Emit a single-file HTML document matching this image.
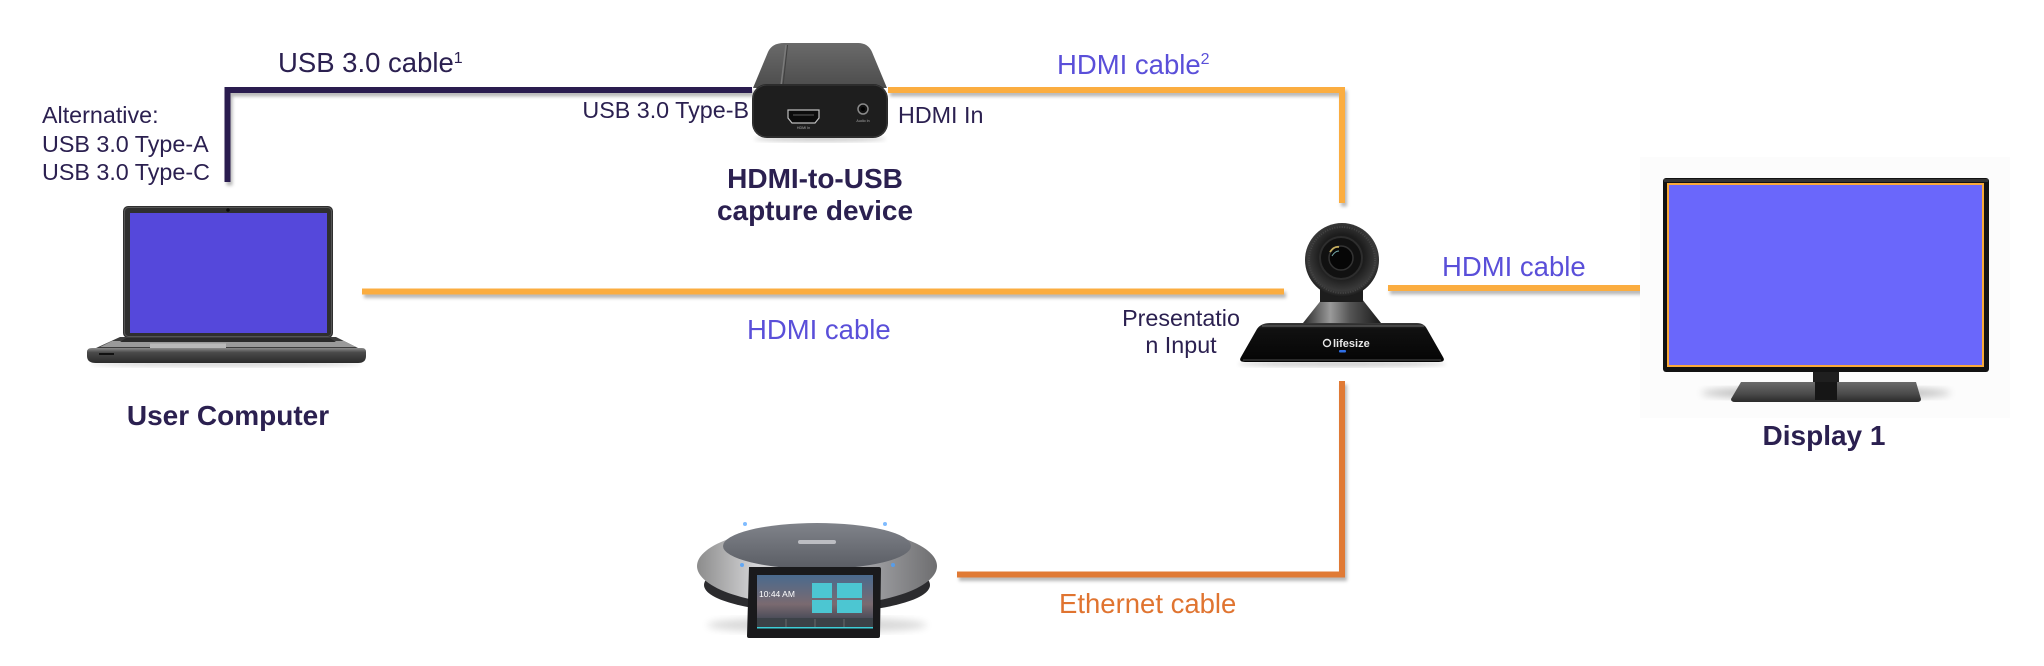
<!DOCTYPE html>
<html>
<head>
<meta charset="utf-8">
<style>
  html,body{margin:0;padding:0;background:#ffffff;}
  body{width:2044px;height:666px;overflow:hidden;}
  svg{display:block;}
  text{font-family:"Liberation Sans",Arial,sans-serif;}
</style>
</head>
<body>
<svg width="2044" height="666" viewBox="0 0 2044 666" xmlns="http://www.w3.org/2000/svg">
  <defs>
    <filter id="sh" x="-5%" y="-50%" width="110%" height="200%">
      <feDropShadow dx="2" dy="3.5" stdDeviation="1.6" flood-color="#000" flood-opacity="0.28"/>
    </filter>
    <filter id="blur4"><feGaussianBlur stdDeviation="4"/></filter>
    <filter id="blur2"><feGaussianBlur stdDeviation="2"/></filter>
    <linearGradient id="devTop" x1="0" y1="0" x2="0" y2="1">
      <stop offset="0" stop-color="#6a6a6a"/>
      <stop offset="1" stop-color="#4c4c4c"/>
    </linearGradient>
    <linearGradient id="cone" x1="0" y1="0" x2="1" y2="0">
      <stop offset="0" stop-color="#2a2a2a"/>
      <stop offset="0.35" stop-color="#9a9a9a"/>
      <stop offset="0.6" stop-color="#555"/>
      <stop offset="1" stop-color="#1a1a1a"/>
    </linearGradient>
    <linearGradient id="camBase" x1="0" y1="0" x2="0" y2="1">
      <stop offset="0" stop-color="#3a3a3a"/>
      <stop offset="0.15" stop-color="#111"/>
      <stop offset="1" stop-color="#050505"/>
    </linearGradient>
    <radialGradient id="camHead" cx="0.5" cy="0.45" r="0.55">
      <stop offset="0" stop-color="#0a0a0a"/>
      <stop offset="0.55" stop-color="#1d1d1d"/>
      <stop offset="0.85" stop-color="#3a3a3a"/>
      <stop offset="1" stop-color="#1a1a1a"/>
    </radialGradient>
    <linearGradient id="tvBase" x1="0" y1="0" x2="0" y2="1">
      <stop offset="0" stop-color="#6a6a6a"/>
      <stop offset="0.6" stop-color="#4a4a4a"/>
      <stop offset="1" stop-color="#2a2a2a"/>
    </linearGradient>
    <linearGradient id="spkSilver" x1="0" y1="0" x2="1" y2="0">
      <stop offset="0" stop-color="#8c8c8c"/>
      <stop offset="0.25" stop-color="#d5d5d7"/>
      <stop offset="0.6" stop-color="#b5b6ba"/>
      <stop offset="1" stop-color="#6e6e70"/>
    </linearGradient>
    <linearGradient id="spkTop" x1="0" y1="0" x2="0" y2="1">
      <stop offset="0" stop-color="#80838a"/>
      <stop offset="1" stop-color="#5a5d64"/>
    </linearGradient>
    <linearGradient id="spkScreen" x1="0" y1="0" x2="0" y2="1">
      <stop offset="0" stop-color="#4a6a8e"/>
      <stop offset="0.55" stop-color="#7a6a70"/>
      <stop offset="1" stop-color="#2c3a4a"/>
    </linearGradient>
    <linearGradient id="lapBase" x1="0" y1="0" x2="0" y2="1">
      <stop offset="0" stop-color="#8a8a8a"/>
      <stop offset="0.3" stop-color="#4a4a4a"/>
      <stop offset="1" stop-color="#2a2a2a"/>
    </linearGradient>
  </defs>

  <!-- ===== Connectors ===== -->
  <g filter="url(#sh)" fill="none" stroke-linejoin="miter" stroke-linecap="butt">
    <path d="M227.5 182 V90 H752" stroke="#2b1e4f" stroke-width="6"/>
    <path d="M888 90 H1342 V203" stroke="#fbad41" stroke-width="6"/>
    <path d="M362 291.5 H1284" stroke="#fbad41" stroke-width="6"/>
    <path d="M1388 288 H1641" stroke="#fbad41" stroke-width="6"/>
    <path d="M957 574.5 H1342 V381" stroke="#e07a35" stroke-width="6"/>
  </g>

  <!-- ===== Laptop ===== -->
  <ellipse cx="226" cy="364" rx="135" ry="3" fill="#000" opacity="0.15" filter="url(#blur2)"/>
  <rect x="123" y="206" width="210" height="132" rx="5" fill="#2f2f2f"/>
  <rect x="124.5" y="207.5" width="207" height="129" rx="4" fill="none" stroke="#555" stroke-width="1"/>
  <rect x="130" y="213" width="197" height="120" fill="#5548db"/>
  <circle cx="228" cy="210" r="1.8" fill="#0a0a0a"/>
  <path d="M120 337 H336 L358 348 H96 Z" fill="#3c3c3c"/>
  <path d="M112 341 H344 L356 347 H100 Z" fill="#9a9a9a"/>
  <path d="M126 338 H330 L336 342 H120 Z" fill="#2a2a2a"/>
  <rect x="150" y="343.5" width="76" height="4.5" fill="#b8b8b8"/>
  <path d="M92 348 H362 Q366 348 366 352 V356 Q366 363 358 363 H96 Q87 363 87 356 V352 Q87 348 92 348 Z" fill="url(#lapBase)"/>
  <rect x="99" y="353" width="15" height="2" fill="#111"/>

  <!-- ===== Capture device ===== -->
  <ellipse cx="820" cy="139" rx="66" ry="3" fill="#000" opacity="0.18" filter="url(#blur2)"/>
  <path d="M784 43 H858 Q868 43 872 52 L887 88 H753 L768 52 Q772 43 784 43 Z" fill="url(#devTop)"/>
  <path d="M786 45 L781 86" stroke="#7a7a7a" stroke-width="1.5"/>
  <path d="M787.5 45 L783 86" stroke="#404040" stroke-width="1"/>
  <rect x="752" y="84" width="136" height="54" rx="15" fill="#1e1e1e"/>
  <rect x="753" y="85" width="134" height="52" rx="14" fill="none" stroke="#3a3a3a" stroke-width="1"/>
  <path d="M788 110 H819 V118 L815 123 H792 L788 118 Z" fill="#0b0b0b" stroke="#bdbdbd" stroke-width="1.2"/>
  <rect x="793" y="114" width="21" height="2" fill="#333"/>
  <text x="803.5" y="129" font-size="3.6" fill="#aaa" text-anchor="middle">HDMI In</text>
  <circle cx="863" cy="109" r="5" fill="#111" stroke="#8a8a8a" stroke-width="1.5"/>
  <circle cx="863" cy="109" r="2" fill="#000"/>
  <text x="863" y="122" font-size="3.6" fill="#aaa" text-anchor="middle">Audio In</text>

  <!-- ===== Camera ===== -->
  <ellipse cx="1342" cy="364" rx="104" ry="3" fill="#000" opacity="0.18" filter="url(#blur2)"/>
  <path d="M1270 323 H1417 Q1424 323 1427 329 L1443 357 Q1446 362 1439 362 H1245 Q1238 362 1241 357 L1257 329 Q1261 323 1270 323 Z" fill="url(#camBase)"/>
  <path d="M1262 326 H1424" stroke="#5a5a5a" stroke-width="1.2"/>
  <path d="M1243 360 H1441" stroke="#2a2a2a" stroke-width="2"/>
  <path d="M1322 299 H1362 L1381 323 H1303 Z" fill="url(#cone)"/>
  <rect x="1320" y="286" width="43" height="16" fill="#1d1d1d"/>
  <circle cx="1342" cy="260" r="37" fill="url(#camHead)"/>
  <circle cx="1342" cy="260" r="33" fill="none" stroke="#444" stroke-width="2" stroke-dasharray="1 1.5"/>
  <circle cx="1341" cy="258" r="21" fill="#111" stroke="#2d2d2d" stroke-width="2"/>
  <circle cx="1341" cy="258" r="12" fill="#060606" stroke="#333" stroke-width="1.5"/>
  <path d="M1330 252 Q1334 246 1339 247" stroke="#c8b060" stroke-width="1.8" fill="none"/>
  <path d="M1332 256 Q1335 251 1339 251" stroke="#7aa" stroke-width="1" fill="none"/>
  <circle cx="1327" cy="343" r="3.5" fill="none" stroke="#e8e8e8" stroke-width="1.4"/>
  <text x="1333" y="347" font-size="11" font-weight="bold" fill="#e8e8e8">lifesize</text>
  <rect x="1339" y="350" width="7" height="2.5" rx="1" fill="#2f6fe6"/>

  <!-- ===== TV ===== -->
  <rect x="1640" y="157" width="370" height="261" fill="#fcfcfc"/>
  <ellipse cx="1826" cy="393" rx="125" ry="6" fill="#000" opacity="0.25" filter="url(#blur4)"/>
  <rect x="1663" y="178" width="326" height="194" rx="3" fill="#121212"/>
  <rect x="1664" y="179" width="324" height="3" fill="#333"/>
  <rect x="1668" y="184" width="315" height="182" fill="#6a67fb" stroke="#f9a93a" stroke-width="2"/>
  <rect x="1813" y="372" width="26" height="11" fill="#1f1f1f"/>
  <path d="M1741 382 H1916 L1921 399 Q1921 402 1917 402 H1735 Q1731 402 1731 399 Z" fill="url(#tvBase)"/>
  <rect x="1815" y="382" width="22" height="18" fill="#161616"/>

  <!-- ===== Speakerphone ===== -->
  <ellipse cx="817" cy="625" rx="110" ry="8" fill="#000" opacity="0.15" filter="url(#blur4)"/>
  <ellipse cx="817" cy="585" rx="113" ry="28" fill="#2b2b2e"/>
  <ellipse cx="817" cy="566" rx="120" ry="40" fill="url(#spkSilver)"/>
  <ellipse cx="817" cy="546" rx="94" ry="23" fill="url(#spkTop)"/>
  <rect x="798" y="540" width="38" height="4" rx="2" fill="#cfd0d4" opacity="0.8"/>
  <circle cx="745" cy="524" r="2" fill="#4aa0ff" opacity="0.7"/>
  <circle cx="885" cy="524" r="2" fill="#4aa0ff" opacity="0.7"/>
  <circle cx="742" cy="565" r="2" fill="#4aa0ff" opacity="0.8"/>
  <circle cx="893" cy="565" r="2" fill="#4aa0ff" opacity="0.8"/>
  <path d="M749 567 H879 Q881 567 881 569 L880 636 Q880 638 878 638 H749 Q747 638 747 636 Z" fill="#1a1a1c"/>
  <rect x="757" y="575" width="116" height="53" fill="url(#spkScreen)"/>
  <rect x="812" y="583" width="20" height="15" fill="#4cc6d2"/>
  <rect x="837" y="583" width="25" height="15" fill="#4cc6d2"/>
  <rect x="812" y="600" width="20" height="13" fill="#4cc6d2"/>
  <rect x="837" y="600" width="25" height="13" fill="#4cc6d2"/>
  <rect x="757" y="618" width="116" height="10" fill="#3c4248"/>
  <path d="M786 619 V627 M815 619 V627 M844 619 V627" stroke="#888" stroke-width="0.6"/>
  <rect x="757" y="627" width="116" height="1.5" fill="#3ccfd8"/>
  <text x="759" y="597" font-size="8.5" fill="#ffffff">10:44 AM</text>

  <!-- ===== Labels ===== -->
  <g fill="#2b2050">
    <text x="278" y="72" font-size="27.5">USB 3.0 cable<tspan font-size="16" dy="-9">1</tspan></text>
    <text x="42" y="123" font-size="23.3">Alternative:</text>
    <text x="42" y="152" font-size="23.3">USB 3.0 Type-A</text>
    <text x="42" y="180" font-size="23.3">USB 3.0 Type-C</text>
    <text x="749" y="118" font-size="23.3" text-anchor="end">USB 3.0 Type-B</text>
    <text x="898" y="123" font-size="23.3">HDMI In</text>
    <text x="815" y="188" font-size="28" font-weight="bold" text-anchor="middle">HDMI-to-USB</text>
    <text x="815" y="220" font-size="28" font-weight="bold" text-anchor="middle">capture device</text>
    <text x="1181" y="326" font-size="23.3" text-anchor="middle">Presentatio</text>
    <text x="1181" y="353" font-size="23.3" text-anchor="middle">n Input</text>
    <text x="228" y="425" font-size="28" font-weight="bold" text-anchor="middle">User Computer</text>
    <text x="1824" y="445" font-size="28" font-weight="bold" text-anchor="middle">Display 1</text>
  </g>
  <g fill="#5a4fd9">
    <text x="1057" y="74" font-size="27.5">HDMI cable<tspan font-size="16" dy="-10">2</tspan></text>
    <text x="747" y="339" font-size="27.5">HDMI cable</text>
    <text x="1442" y="276" font-size="27.5">HDMI cable</text>
  </g>
  <text x="1059" y="613" font-size="27.5" fill="#e07430">Ethernet cable</text>
</svg>
</body>
</html>
